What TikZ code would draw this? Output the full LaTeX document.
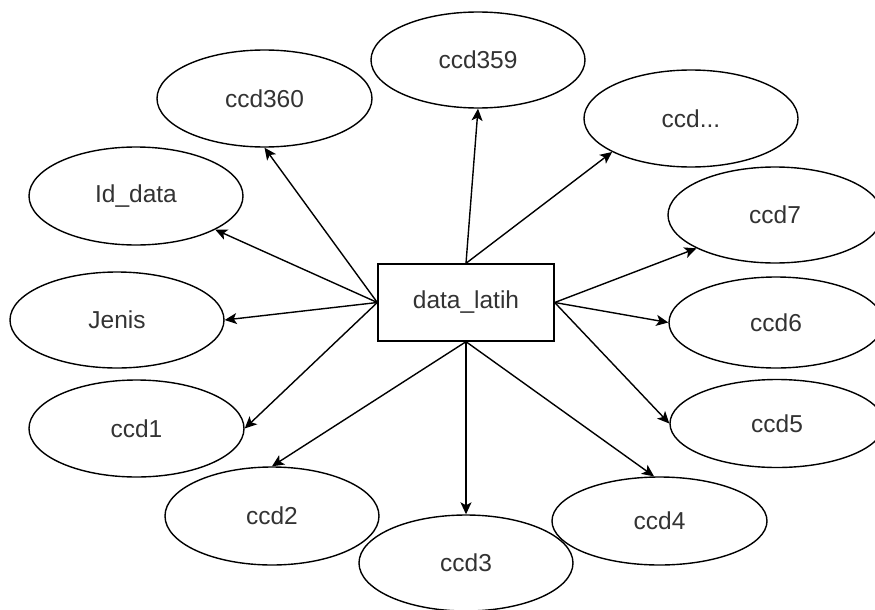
\documentclass[tikz,border=0pt]{standalone}
\usepackage{fontspec}
\setmainfont{Liberation Sans}
\usetikzlibrary{shapes.geometric,arrows.meta}
\begin{document}
\begin{tikzpicture}[x=1pt,y=-1pt,
  attr/.style={draw, ellipse, line width=1.4pt, minimum width=214pt,
    minimum height=96pt, inner sep=0pt, text=black!80,
    font=\fontsize{24.5}{29}\selectfont},
  entity/.style={draw, rectangle, line width=1.4pt, minimum width=176pt,
    minimum height=77pt, inner sep=0pt, text=black!80,
    font=\fontsize{24.5}{29}\selectfont},
  link/.style={line width=1.4pt, -{Stealth[length=12pt,width=11pt,inset=3pt]}}]

% canvas
\fill[white] (0,0) rectangle (875,610);
\useasboundingbox (0,0) rectangle (875,610);

% central entity
\node[entity] (latih) at (466,302.5) {data\_latih};

% attributes
\node[attr] (c359)  at (478,60)      {ccd359};
\node[attr, minimum width=215pt, minimum height=97pt] (c360) at (264.5,98.5) {ccd360};
\node[attr, minimum height=97pt] (cdots) at (691,118.5) {ccd...};
\node[attr, minimum height=98pt] (iddata) at (136,196) {Id\_data};
\node[attr] (c7)    at (775,215)     {ccd7};
\node[attr] (jenis) at (117,320)     {Jenis};
\node[attr, minimum height=91pt] (c6) at (776,322.5) {ccd6};
\node[attr, minimum width=215pt, minimum height=97pt] (c1) at (136.5,428.5) {ccd1};
\node[attr, minimum height=88pt] (c5) at (777,423.5) {ccd5};
\node[attr, minimum height=98pt] (c2) at (272,516) {ccd2};
\node[attr, minimum width=215pt, minimum height=88pt] (c4) at (659.5,521) {ccd4};
\node[attr] (c3)    at (466,563)     {ccd3};

% connectors
\draw[link] (latih.north) -- (c359.south);
\draw[link] (latih.north) -- (cdots.203.5);
\draw[link] (latih.west)  -- (c360.south);
\draw[link] (latih.west)  -- (iddata.-23);
\draw[link] (latih.west)  -- (jenis.east);
\draw[link] (latih.west)  -- (c1.east);
\draw[link] (latih.south) -- (c2.north);
\draw[link] (latih.south) -- (c3.north);
\draw[link] (latih.south) -- (c4.97);
\draw[link] (latih.east)  -- (c5.west);
\draw[link] (latih.east)  -- (c6.west);
\draw[link] (latih.east)  -- (c7.203.5);
\end{tikzpicture}
\end{document}
